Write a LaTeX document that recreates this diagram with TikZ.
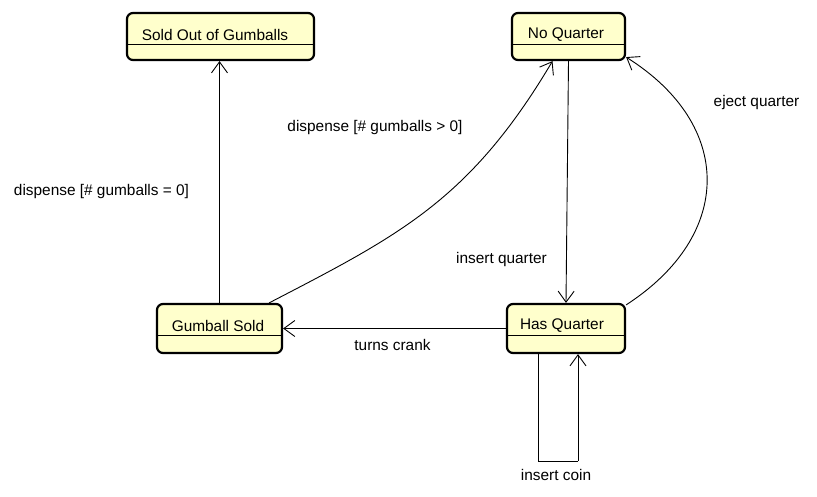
\documentclass[tikz,border=0pt]{standalone}
\usepackage{fontspec}
\setmainfont{Liberation Sans}
\usetikzlibrary{arrows.meta,calc}
\definecolor{stfill}{RGB}{255,255,204}
\tikzset{
  statebox/.style={draw=black, line width=2.2pt, rounded corners=6pt, fill=stfill, inner sep=0pt},
  sep/.style={line width=0.9pt},
  conn/.style={line width=0.9pt, -{Straight Barb[length=11pt,width=16pt,line width=0.9pt]}},
  plain/.style={line width=0.9pt},
  txt/.style={font=\fontsize{15.4}{17}\selectfont, inner sep=0pt, anchor=center}
}
\begin{document}
\begin{tikzpicture}[x=1pt,y=-1pt]
\useasboundingbox (0,0) rectangle (817,496);
% states
\node[statebox, minimum width=187pt, minimum height=47pt] (soldout) at (220.5,36.5) {};
\node[statebox, minimum width=113pt, minimum height=47pt] (noq) at (568.5,36.5) {};
\node[statebox, minimum width=125pt, minimum height=49pt] (sold) at (219.5,328.5) {};
\node[statebox, minimum width=118pt, minimum height=49pt] (hasq) at (566,328.5) {};
% separators
\draw[sep] ([yshift=-33pt]soldout.north west) -- ([yshift=-33pt]soldout.north east);
\draw[sep] ([yshift=-33pt]noq.north west) -- ([yshift=-33pt]noq.north east);
\draw[sep] ([yshift=-33pt]sold.north west) -- ([yshift=-33pt]sold.north east);
\draw[sep] ([yshift=-33pt]hasq.north west) -- ([yshift=-33pt]hasq.north east);
% state names
\node[txt] (tsoldout) at (215,34.5) {Sold Out of Gumballs};
\node[txt] (tnoq) at (566,34.5) {No Quarter};
\node[txt] (tsold) at (218,325.5) {Gumball Sold};
\node[txt] (thasq) at (562,325.5) {Has Quarter};
% transitions
\draw[conn] (sold.north) -- (sold.north |- soldout.south);
\draw[conn] (noq.south) -- (hasq.north);
\draw[conn] (hasq.west) -- (sold.east);
\draw[conn] ([xshift=-14pt]sold.north east) .. controls (400,235) and (470,200) .. ([xshift=-16pt]noq.south);
\draw[conn] ([yshift=-2pt]hasq.north east) .. controls (734,235) and (734,125) .. ([yshift=4pt]noq.south east);
\coordinate (l1) at ([xshift=-28pt]hasq.south);
\coordinate (l4) at ([xshift=12pt]hasq.south);
\coordinate (l2) at ($(l1)+(0,107)$);
\coordinate (l3) at ($(l4)+(0,107)$);
\draw[plain] (l1) -- (l2) -- (l3);
\draw[conn] (l3) -- (l4);
% labels
\node[txt] (e1) at (101.5,191.5) {dispense [\# gumballs = 0]};
\node[txt] (e2) at (375,127.5) {dispense [\# gumballs > 0]};
\node[txt] (e3) at (501.5,259.5) {insert quarter};
\node[txt] (e4) at (756.5,102.5) {eject quarter};
\node[txt] (e5) at (392.5,344.5) {turns crank};
\node[txt] (e6) at (556,474.5) {insert coin};
\end{tikzpicture}
\end{document}
